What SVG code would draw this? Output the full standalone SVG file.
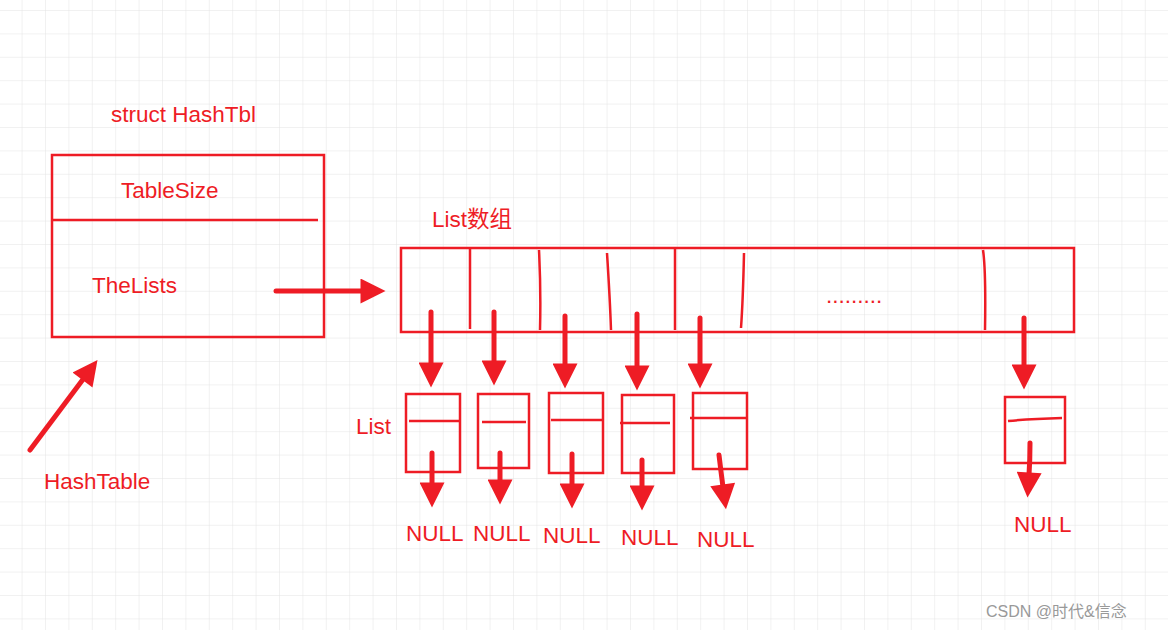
<svg xmlns="http://www.w3.org/2000/svg" width="1168" height="630" viewBox="0 0 1168 630">
<defs>
<pattern id="g" x="21.6" y="10" width="23.4" height="23.4" patternUnits="userSpaceOnUse"><path d="M0 0H23.4M0 0V23.4" stroke="#e4e4e4" stroke-width="1" fill="none"/></pattern>
<marker id="ah" viewBox="0 0 10 10" refX="1" refY="5" markerWidth="5.5" markerHeight="5" orient="auto-start-reverse" markerUnits="strokeWidth"><path d="M0 0L10 5L0 10z" fill="#ee1c25"/></marker>
<style>
.t{font-family:"Microsoft YaHei","Liberation Sans","Noto Sans CJK SC",sans-serif;fill:#ee1c25;font-size:22.5px}
.b{fill:none;stroke:#ee1c25;stroke-width:2.5}
.a{stroke:#ee1c25;stroke-width:5;fill:none;marker-end:url(#ah);stroke-linecap:round}
</style>
</defs>
<rect width="1168" height="630" fill="#fff"/>
<rect width="1168" height="630" fill="url(#g)"/>
<text class="t" x="111" y="122">struct HashTbl</text>
<g id="hashtbl"><rect class="b" x="52" y="155" width="272" height="182"/><path class="b" d="M52 220H318"/>
<text class="t" x="121" y="198">TableSize</text><text class="t" x="92" y="293">TheLists</text></g>
<g id="hashtable"><text class="t" x="44" y="489">HashTable</text></g>
<text class="t" x="432" y="227">List数组</text>
<g id="array"><rect class="b" x="401" y="248" width="673" height="84"/>
<path class="b" d="M470 248V329M539 250Q541 290 540 330M607 253Q610 300 611 330M675 248V330M744 253Q743 300 741 328M983 250Q986 270 985 330"/>
<text class="t" x="826" y="303">.........</text></g>
<text class="t" x="356" y="434">List</text>
<g id="lists">
<rect class="b" x="406" y="394" width="54" height="78"/><path class="b" d="M409 421H461"/>
<rect class="b" x="478" y="394" width="51" height="74"/><path class="b" d="M482 422H526"/>
<rect class="b" x="549" y="393" width="54" height="80"/><path class="b" d="M551 420H602"/>
<rect class="b" x="622" y="395" width="52" height="78"/><path class="b" d="M620 423H670"/>
<rect class="b" x="693" y="393" width="54" height="76"/><path class="b" d="M690 418H746"/>
<rect class="b" x="1005" y="397" width="60" height="66"/><path class="b" d="M1008 421Q1030 419 1062 418"/>
</g>
<g class="t">
<text x="406" y="541">NULL</text><text x="473" y="541">NULL</text><text x="543" y="543">NULL</text><text x="621" y="545">NULL</text><text x="697" y="547">NULL</text><text x="1014" y="532">NULL</text>
</g>
<g id="connectors">
<path class="a" d="M276 291H363"/>
<path class="a" d="M30 450L84 378"/>
<path class="a" d="M431 312V365"/><path class="a" d="M494 312V363"/><path class="a" d="M565 316V366"/><path class="a" d="M637 314V368"/><path class="a" d="M700 318V366"/><path class="a" d="M1024 318V367"/>
<path class="a" d="M432 453V485"/><path class="a" d="M500 453V482"/><path class="a" d="M572 454V486"/><path class="a" d="M642 460V488"/><path class="a" d="M719 455Q721 472 723 487"/><path class="a" d="M1030 443Q1030 460 1029 475"/>
</g>
<text x="986" y="617" style="font-family:'Liberation Sans','Noto Sans CJK SC',sans-serif;font-size:16px;fill:#999">CSDN @时代&amp;信念</text>
</svg>
